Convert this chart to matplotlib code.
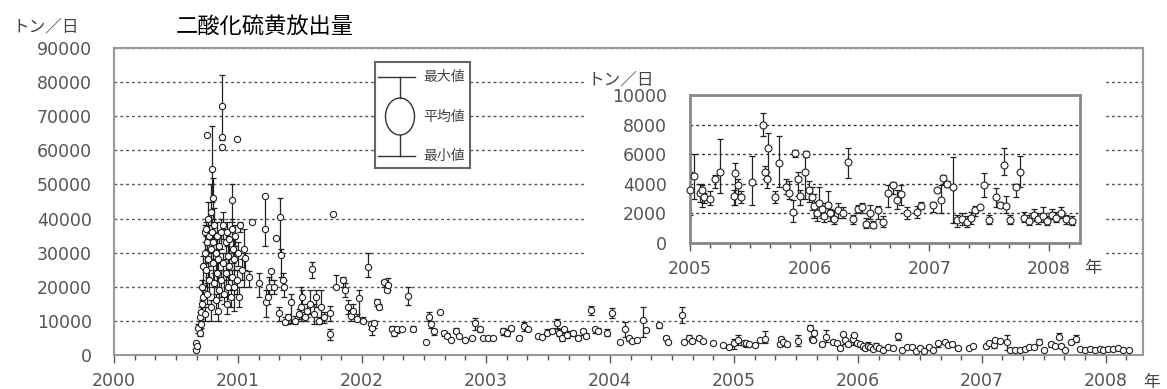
import numpy as np
import matplotlib.pyplot as plt
from matplotlib.patches import Rectangle, Ellipse

W, H = 1167, 389
JP = ['Noto Sans CJK JP', 'DejaVu Sans']

# SO2 emission, t/day: date (decimal year), mean, min, max
dates = [
    2000.66, 2000.66, 2000.67, 2000.68, 2000.69, 2000.69, 2000.70, 2000.70,
    2000.71, 2000.71, 2000.72, 2000.72, 2000.73, 2000.73, 2000.73, 2000.74,
    2000.74, 2000.75, 2000.75, 2000.75, 2000.76, 2000.76, 2000.77, 2000.77,
    2000.78, 2000.78, 2000.78, 2000.79, 2000.79, 2000.80, 2000.80, 2000.80,
    2000.81, 2000.81, 2000.82, 2000.82, 2000.83, 2000.83, 2000.84, 2000.84,
    2000.85, 2000.85, 2000.86, 2000.86, 2000.87, 2000.87, 2000.87, 2000.88,
    2000.88, 2000.89, 2000.90, 2000.90, 2000.91, 2000.91, 2000.92, 2000.92,
    2000.93, 2000.93, 2000.94, 2000.95, 2000.95, 2000.95, 2000.96, 2000.97,
    2000.97, 2000.98, 2000.99, 2000.99, 2001.00, 2001.01, 2001.02, 2001.03,
    2001.05, 2001.06, 2001.09, 2001.11, 2001.17, 2001.22, 2001.22, 2001.23,
    2001.24, 2001.25, 2001.27, 2001.29, 2001.31, 2001.33, 2001.34, 2001.35,
    2001.36, 2001.37, 2001.38, 2001.40, 2001.43, 2001.46, 2001.49, 2001.51,
    2001.52, 2001.54, 2001.56, 2001.58, 2001.60, 2001.61, 2001.63, 2001.65,
    2001.67, 2001.69, 2001.74, 2001.74, 2001.77, 2001.79, 2001.85, 2001.86,
    2001.89, 2001.91, 2001.93, 2001.96, 2001.98, 2002.01, 2002.05, 2002.07,
    2002.08, 2002.10, 2002.12, 2002.14, 2002.18, 2002.20, 2002.21, 2002.24,
    2002.26, 2002.28, 2002.32, 2002.37, 2002.41, 2002.52, 2002.54, 2002.56,
    2002.58, 2002.63, 2002.66, 2002.69, 2002.72, 2002.76, 2002.78, 2002.83,
    2002.89, 2002.91, 2002.95, 2002.98, 2003.02, 2003.06, 2003.14, 2003.17,
    2003.20, 2003.27, 2003.31, 2003.34, 2003.42, 2003.45, 2003.49, 2003.53,
    2003.57, 2003.59, 2003.61, 2003.63, 2003.65, 2003.70, 2003.74, 2003.78,
    2003.81, 2003.85, 2003.88, 2003.90, 2003.98, 2004.02, 2004.08, 2004.12,
    2004.15, 2004.18, 2004.22, 2004.27, 2004.29, 2004.40, 2004.45, 2004.47,
    2004.58, 2004.60, 2004.64, 2004.66, 2004.72, 2004.75, 2004.83, 2004.91,
    2004.96, 2005.00, 2005.03, 2005.08, 2005.10, 2005.12, 2005.17, 2005.21,
    2005.25, 2005.37, 2005.38, 2005.40, 2005.43, 2005.52, 2005.61, 2005.63,
    2005.64, 2005.65, 2005.71, 2005.74, 2005.80, 2005.83, 2005.86, 2005.88,
    2005.90, 2005.92, 2005.96, 2005.97, 2005.99, 2006.02, 2006.04, 2006.06,
    2006.08, 2006.10, 2006.12, 2006.15, 2006.17, 2006.20, 2006.24, 2006.28,
    2006.32, 2006.36, 2006.40, 2006.44, 2006.47, 2006.50, 2006.53, 2006.57,
    2006.61, 2006.65, 2006.70, 2006.73, 2006.76, 2006.81, 2006.90, 2006.93,
    2007.03, 2007.06, 2007.10, 2007.11, 2007.15, 2007.20, 2007.23, 2007.27,
    2007.31, 2007.35, 2007.38, 2007.42, 2007.46, 2007.50, 2007.56, 2007.59,
    2007.62, 2007.64, 2007.67, 2007.72, 2007.76, 2007.79, 2007.83, 2007.87,
    2007.91, 2007.95, 2007.98, 2008.02, 2008.06, 2008.10, 2008.14, 2008.19,
]
means = [
    1500, 3500, 2500, 8000, 6500, 11000, 12500, 9000,
    15000, 20000, 26000, 17000, 36000, 30000, 12000, 37000,
    25000, 64500, 33000, 18000, 40000, 28000, 35000, 22000,
    42000, 31000, 14000, 54500, 36000, 46000, 27000, 33000,
    38000, 21000, 30000, 16000, 35000, 24000, 28000, 13000,
    32000, 19000, 36000, 22000, 73000, 64000, 61000, 27000,
    38000, 18000, 33000, 24000, 36000, 15000, 29000, 20000,
    34000, 26000, 17000, 45500, 37000, 23000, 31000, 20000,
    28000, 35000, 63200, 22000, 30000, 17000, 38000, 25000,
    31000, 28500, 23000, 39000, 21000, 37000, 46500, 15600,
    17000, 20000, 24500, 20000, 34400, 12400, 40500, 29400,
    22000, 20000, 9700, 11000, 15600, 10000, 12000, 14000,
    17000, 11000, 13000, 15000, 25300, 12000, 17000, 10000,
    14000, 11000, 12400, 6200, 41200, 20000, 22000, 19000,
    14000, 11500, 13000, 10500, 16800, 10000, 25900, 9000,
    8000, 9500, 15500, 14000, 21500, 19000, 20500, 7500,
    6500, 7500, 7600, 17400, 7600, 3800, 11000, 9000,
    7000, 12600, 6500, 5500, 4400, 7000, 5500, 4500,
    5000, 9400, 7500, 5000, 5000, 5000, 7000, 6500,
    8000, 5000, 8500, 7500, 5500, 5200, 6500, 7000,
    9400, 6500, 5000, 7500, 6000, 6500, 5000, 7000,
    5500, 13200, 7500, 7000, 6500, 12400, 3800, 7500,
    5000, 4000, 4500, 10300, 7400, 8800, 5000, 3800,
    11800, 3800, 5000, 4000, 5000, 4000, 3500, 2900,
    2400, 3600, 4500, 3400, 3600, 3100, 3000, 4300,
    4800, 3200, 4700, 3900, 3100, 4100, 8000, 4800,
    4300, 6400, 3100, 5400, 3800, 3400, 2100, 6100,
    4300, 3200, 4800, 6000, 3600, 3100, 2500, 2000,
    2700, 2300, 1800, 2600, 2000, 1600, 2200, 2000,
    5500, 1600, 2300, 2400, 1300, 2000, 1200, 2200,
    1400, 3400, 3900, 2900, 3300, 2000, 2100, 2500,
    2600, 3600, 2900, 4400, 4000, 3800, 1550, 1600,
    1400, 1700, 2200, 2400, 3900, 1550, 3100, 2600,
    5300, 2500, 1550, 3800, 4800, 1700, 1500, 1900,
    1600, 1800, 1500, 1900, 1700, 2000, 1600, 1500,
]
mins = [
    1500, 3500, 2000, 6500, 5500, 9000, 10000, 8000,
    12000, 15000, 20000, 14000, 30000, 25000, 10000, 35000,
    20000, 64500, 28000, 15000, 35000, 23000, 30000, 18000,
    38000, 26000, 10000, 45000, 30000, 40000, 20000, 28000,
    33000, 16000, 25000, 12000, 30000, 20000, 22000, 10000,
    28000, 16000, 31000, 17000, 63000, 64000, 61000, 22000,
    34000, 15000, 28000, 20000, 32000, 12000, 25000, 17000,
    30000, 22000, 14000, 39000, 34000, 19000, 27000, 13000,
    25000, 32000, 63200, 18000, 26000, 14000, 36000, 22000,
    20000, 25000, 20000, 39000, 17000, 32000, 46500, 11000,
    15000, 18000, 22000, 18000, 34400, 10000, 30000, 23000,
    19000, 17000, 9000, 9000, 9500, 9000, 10500, 10000,
    15000, 10000, 11000, 12000, 22600, 9000, 14000, 9000,
    10000, 9500, 10000, 4500, 41200, 19500, 20000, 17000,
    12000, 10000, 11000, 10000, 10000, 9500, 23000, 7500,
    6000, 8000, 14500, 13500, 20000, 18500, 19000, 7000,
    5500, 6500, 7600, 14700, 7000, 3800, 10000, 8000,
    6000, 12600, 5500, 5000, 4400, 6500, 5500, 4500,
    5000, 7400, 6800, 5000, 4500, 5000, 6000, 5500,
    7000, 4500, 7000, 7000, 5000, 5000, 6000, 6500,
    8000, 5500, 4000, 6500, 5000, 5500, 4500, 6000,
    5000, 11800, 6500, 6500, 5500, 10900, 3800, 5300,
    4000, 3500, 4500, 5300, 7400, 8000, 4500, 3500,
    9400, 3800, 4500, 3500, 4500, 3600, 3500, 2900,
    2400, 1900, 3000, 2800, 2400, 2700, 2600, 3700,
    3400, 2600, 2600, 3300, 2700, 2600, 7200, 4300,
    3700, 4300, 2700, 3800, 3300, 3000, 1400, 5800,
    3200, 2600, 3000, 5800, 2800, 2200, 1700, 1500,
    2000, 1700, 1400, 1800, 1500, 1300, 1700, 1700,
    4400, 1300, 2000, 2000, 1000, 1600, 1000, 1600,
    1100, 2400, 3300, 2300, 2600, 1600, 1700, 2300,
    2100, 3600, 2000, 4000, 3800, 1350, 1100, 1200,
    1100, 1300, 1800, 2400, 3100, 1300, 2400, 2400,
    4600, 2000, 1300, 3100, 3800, 1400, 1200, 1500,
    1300, 1400, 1200, 1600, 1400, 1700, 1300, 1200,
]
maxs = [
    1500, 3500, 3000, 9000, 7500, 12500, 14000, 10500,
    16000, 22000, 29000, 19000, 38000, 33000, 14000, 39000,
    27000, 64500, 36000, 21000, 45000, 31000, 38000, 25000,
    50000, 34000, 16000, 67000, 40000, 52000, 30000, 36000,
    43000, 24000, 34000, 18000, 39000, 27000, 31000, 16000,
    36000, 23000, 40000, 25000, 82000, 64000, 61000, 30000,
    42000, 22000, 37000, 27000, 39000, 18000, 33000, 23000,
    37000, 28000, 20000, 50000, 40000, 25000, 34000, 34000,
    31000, 38000, 63200, 25000, 33000, 20000, 39000, 28000,
    37000, 30000, 24500, 39000, 24000, 46500, 46500, 19000,
    19000, 23000, 25000, 22000, 34400, 14000, 46000, 31000,
    24000, 22000, 11000, 12000, 18000, 11500, 13500, 20000,
    19000, 12500, 15000, 19000, 27300, 15000, 19000, 11000,
    19000, 12500, 14500, 7500, 41200, 23500, 23000, 21000,
    16000, 13000, 15000, 12000, 19000, 11000, 30000, 10000,
    9000, 10000, 16500, 15000, 22000, 21000, 22500, 8500,
    8000, 8000, 7600, 20000, 8500, 3800, 12500, 10000,
    7500, 12600, 7000, 6500, 4400, 8000, 5500, 4500,
    5000, 10900, 8200, 5000, 5500, 5000, 8000, 7500,
    8500, 5500, 9700, 8000, 5900, 5500, 7500, 7500,
    10500, 7500, 6000, 8000, 7000, 7000, 5500, 7500,
    6500, 14500, 8000, 8000, 7500, 13800, 3800, 9700,
    5300, 4500, 4500, 14100, 7400, 9500, 5500, 4200,
    14100, 3800, 6000, 4500, 5500, 4500, 3500, 2900,
    2400, 4800, 6000, 4000, 3900, 3400, 3500, 4600,
    7000, 3600, 5400, 4300, 3500, 5900, 8800, 5200,
    4800, 7400, 3500, 7200, 4300, 4200, 2900, 6300,
    4800, 3600, 6000, 6200, 4200, 3800, 3300, 2800,
    3800, 2700, 2400, 3500, 2300, 2200, 2700, 2400,
    6400, 1900, 2600, 2700, 1700, 2600, 1500, 2500,
    1800, 3900, 4100, 3600, 3900, 2400, 2500, 2800,
    2800, 3600, 3900, 4600, 4200, 5800, 1900, 2000,
    1800, 2100, 2500, 2400, 4700, 1900, 3700, 2800,
    6400, 3200, 1900, 4000, 5900, 2100, 1900, 2300,
    2000, 2400, 1800, 2300, 2100, 2400, 1900, 1800,
]

main_yticks = list(range(0, 90001, 10000))
main_years = list(range(2000, 2009))
inset_yticks = list(range(0, 10001, 2000))
inset_years = list(range(2005, 2009))

t = np.array(dates)
m = np.array(means)
lo = np.array(mins)
hi = np.array(maxs)


def box(x0, y0, x1, y1):
    # pixel box (top-left origin) -> figure fraction rect
    return [x0 / W, 1 - y1 / H, (x1 - x0) / W, (y1 - y0) / H]


def draw_series(ax, sel, ms):
    bars = sel & (hi > lo)
    ax.errorbar(t[bars], m[bars], yerr=[m[bars] - lo[bars], hi[bars] - m[bars]],
                fmt='none', ecolor='#222222', elinewidth=0.9, capsize=2.5,
                capthick=0.9, zorder=2)
    ax.plot(t[sel], m[sel], 'o', mfc='white', mec='#222222', ms=ms, mew=0.8,
            zorder=3, clip_on=False)


def style_axes(ax, spine_c, spine_w):
    for s in ax.spines.values():
        s.set_color(spine_c)
        s.set_linewidth(spine_w)
    ax.tick_params(axis='x', which='major', direction='out', length=6,
                   width=1, color='#555555', pad=6.5, labelsize=12.5,
                   labelcolor='#555555')
    ax.tick_params(axis='x', which='minor', direction='out', length=3.5,
                   width=1, color='#555555')
    ax.tick_params(axis='y', length=0, labelsize=12.5, labelcolor='#555555')


fig = plt.figure(figsize=(W / 100, H / 100), dpi=100)

# main chart
ax = fig.add_axes(box(114, 48, 1143, 355))
draw_series(ax, np.ones(len(t), bool), 4.5)
ax.set_xlim(2000, 2008.3)
ax.set_ylim(0, 90000)
ax.set_yticks(main_yticks)
ax.set_xticks(main_years)
ax.set_xticks(np.arange(2000, 2008.3, 1 / 6), minor=True)
ax.grid(axis='y', color='#555555', lw=1.0, ls=(0, (2, 2.2)))
style_axes(ax, '#999999', 1.5)
ax.tick_params(axis='y', pad=16)

fig.text(13 / W, 1 - 27 / H, 'トン／日', family=JP, fontsize=12,
         color='#444444', va='center')
fig.text(265 / W, 1 - 26 / H, '二酸化硫黄放出量', family=JP, fontsize=16,
         ha='center', va='center')
fig.text(1143 / W, 1 - 382 / H, '年', family=JP, fontsize=12,
         color='#444444', va='center')

# white backing behind the inset
fig.add_artist(Rectangle((585 / W, 1 - 282 / H), 520 / W, 224 / H,
                         transform=fig.transFigure, fc='white', ec='none',
                         zorder=1))

# inset 2005-2008
ins = fig.add_axes(box(690, 95, 1080, 243))
ins.set_zorder(3)
draw_series(ins, t >= 2005, 5)
ins.set_xlim(2005, 2008.258)
ins.set_ylim(0, 10000)
ins.set_yticks(inset_yticks)
ins.set_xticks(inset_years)
ins.set_xticks(np.arange(2005, 2008.26, 1 / 6), minor=True)
ins.grid(axis='y', color='#333333', lw=1.0, ls=(0, (2, 2.2)))
style_axes(ins, '#888888', 2)
ins.tick_params(axis='y', pad=16.5)

fig.text(588 / W, 1 - 80 / H, 'トン／日', family=JP, fontsize=12,
         color='#444444', va='center')
fig.text(1084 / W, 1 - 268 / H, '年', family=JP, fontsize=12.5,
         color='#444444', va='center')

# legend schematic
lg = fig.add_axes(box(375, 62, 470, 168))
lg.set_zorder(3)
lg.set_xlim(0, 95)
lg.set_ylim(106, 0)
lg.set_xticks([])
lg.set_yticks([])
for s in lg.spines.values():
    s.set_color('#666666')
    s.set_linewidth(1.5)
lg.plot([3, 40], [15, 15], color='#333333', lw=1)
lg.plot([3, 40], [94, 94], color='#333333', lw=1)
lg.plot([25, 25], [15, 36], color='#333333', lw=1)
lg.plot([25, 25], [73, 94], color='#333333', lw=1)
lg.add_patch(Ellipse((25, 54.5), 29, 37, fc='white', ec='#333333', lw=1))
for y, s in [(15, '最大値'), (55, '平均値'), (94, '最小値')]:
    lg.text(48, y, s, family=JP, fontsize=10, color='#444444', va='center')

fig.savefig('out.png', dpi=100)
